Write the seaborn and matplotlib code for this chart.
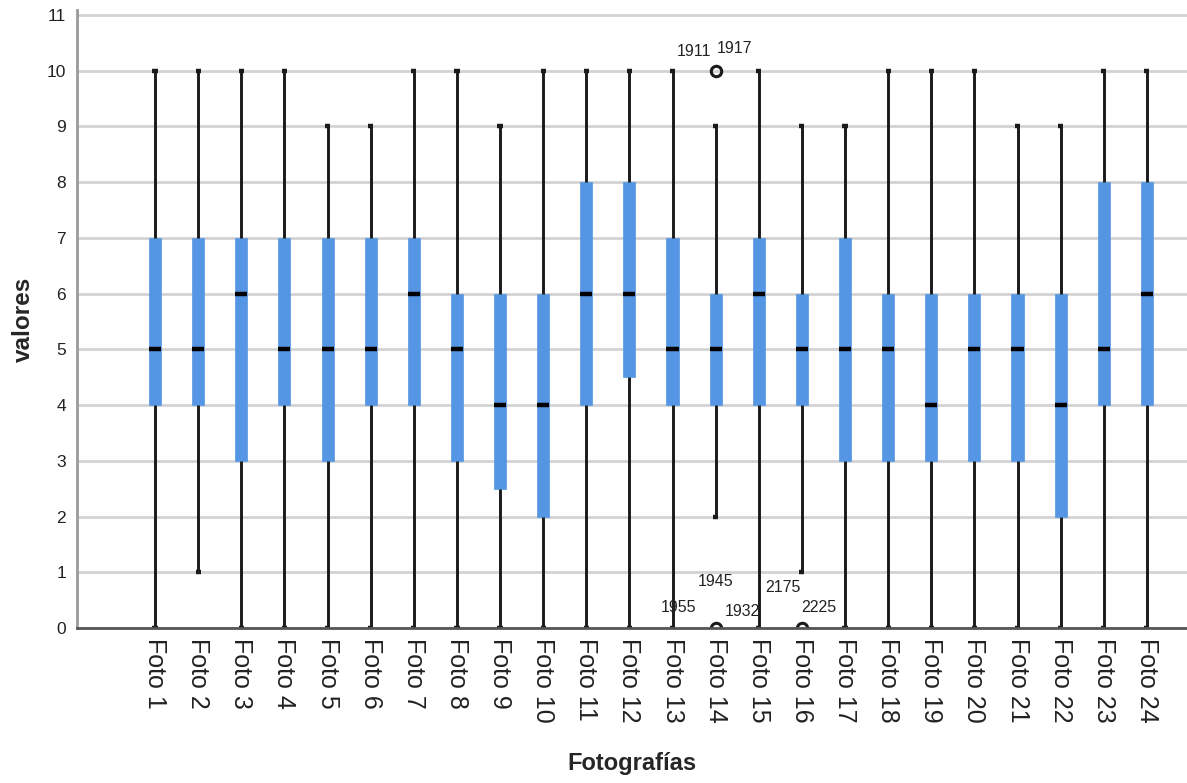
import matplotlib
matplotlib.use("Agg")
import matplotlib.pyplot as plt
import seaborn as sns
import pandas as pd
import numpy as np

# ---- data ----
fotos = [f"Foto {i}" for i in range(1, 25)]
whisker_low = [0, 1, 0, 0, 0, 0, 0, 0, 0, 0, 0, 0, 0, 2, 0, 1, 0, 0, 0, 0, 0, 0, 0, 0]
q1 =          [4, 4, 3, 4, 3, 4, 4, 3, 2.5, 2, 4, 4.5, 4, 4, 4, 4, 3, 3, 3, 3, 3, 2, 4, 4]
medians =     [5, 5, 6, 5, 5, 5, 6, 5, 4, 4, 6, 6, 5, 5, 6, 5, 5, 5, 4, 5, 5, 4, 5, 6]
q3 =          [7, 7, 7, 7, 7, 7, 7, 6, 6, 6, 8, 8, 7, 6, 7, 6, 7, 6, 6, 6, 6, 6, 8, 8]
whisker_high = [10, 10, 10, 10, 9, 9, 10, 10, 9, 10, 10, 10, 10, 9, 10, 9, 9, 10, 10, 10, 9, 9, 10, 10]
outlier_low = {"Foto 14": 0, "Foto 16": 0}
outlier_high = {"Foto 14": 10}
outlier_labels = [
    ("Foto 14", 10, "1911"), ("Foto 14", 10, "1917"),
    ("Foto 14", 0, "1955"), ("Foto 14", 0, "1945"), ("Foto 14", 0, "1932"),
    ("Foto 16", 0, "2175"), ("Foto 16", 0, "2225"),
]
yticks = list(range(0, 12))

# build a value table per photo that reproduces the summary statistics
rows = []
for i, f in enumerate(fotos):
    vals = [outlier_low.get(f, whisker_low[i]), whisker_low[i], q1[i], q1[i], medians[i],
            q3[i], q3[i], whisker_high[i], outlier_high.get(f, whisker_high[i])]
    rows += [(f, v) for v in vals]
df = pd.DataFrame(rows, columns=["Foto", "valor"])

# ---- style ----
BLUE = "#5596E4"
label_offsets = {"1911": (-22, 19), "1917": (19, 22), "1955": (-37, 21), "1945": (0, 46),
                 "1932": (27, 16), "2175": (-19, 41), "2225": (17, 21)}

sns.set_style("white")
plt.rcParams["font.family"] = ["Liberation Sans", "DejaVu Sans"]

fig = plt.figure(figsize=(11.87, 7.83), dpi=100)
ax = fig.add_axes([77 / 1187, 155 / 783, 1 - 77 / 1187, (783 - 155 - 10) / 783])

sns.boxplot(
    data=df, x="Foto", y="valor", order=fotos, ax=ax,
    width=0.28, color=BLUE, saturation=1, whis=1.5, linecolor="black",
    boxprops=dict(facecolor=BLUE, edgecolor=BLUE, linewidth=0.5),
    medianprops=dict(color="black", linewidth=3.2, solid_capstyle="butt"),
    whiskerprops=dict(color="#1a1a1a", linewidth=2.1),
    capprops=dict(color="#1a1a1a", linewidth=3.2, solid_capstyle="butt"),
    capwidths=0.12,
    flierprops=dict(marker="o", markerfacecolor="none", markeredgecolor="#1a1a1a",
                    markersize=7.5, markeredgewidth=2.2),
)

for f, y, lab in outlier_labels:
    x = fotos.index(f)
    dx, dy = label_offsets[lab]
    ax.annotate(lab, (x, y), xytext=(dx, dy), textcoords="offset pixels",
                ha="center", va="center", fontsize=11.5, color="#222222")

ax.set_ylim(0, 11.09)
ax.set_xlim(-1.81, 23.93)
ax.set_yticks(yticks)
ax.yaxis.grid(True, color="#d3d3d3", linewidth=2)
ax.xaxis.grid(False)
ax.set_axisbelow(True)

for s in ["top", "right"]:
    ax.spines[s].set_visible(False)
ax.spines["left"].set_color("#9a9a9a")
ax.spines["left"].set_linewidth(2)
ax.spines["bottom"].set_color("#555555")
ax.spines["bottom"].set_linewidth(2)

ax.tick_params(axis="x", length=0, pad=7, labelsize=18, labelcolor="#222222", labelrotation=-90)
ax.tick_params(axis="y", length=0, pad=8, labelsize=12.5, labelcolor="#222222")
for t in ax.get_xticklabels():
    t.set_va("top")
    t.set_ha("center")

ax.set_xlabel("Fotografías", fontsize=17, fontweight="bold", labelpad=21)
ax.set_ylabel("valores", fontsize=17.5, fontweight="bold", labelpad=8)

fig.savefig("out.png", dpi=100)
